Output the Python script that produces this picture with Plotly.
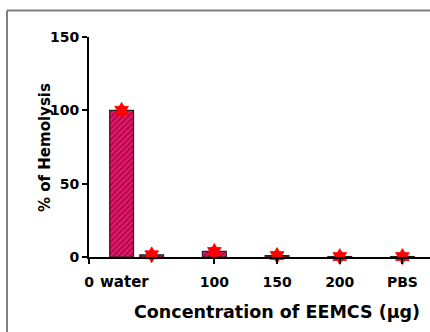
import plotly.graph_objects as go

# data
doses = [26, 50, 100, 150, 200, 250]          # x positions on numeric axis (water, 50..200, PBS)
hemolysis = [100, 1.5, 3.8, 1.0, 0.3, 0.3]    # % hemolysis
tick_vals = [0, 100, 150, 200, 250]
tick_text = ["0", "100", "150", "200", "PBS"]
y_ticks = [0, 50, 100, 150]

W, H = 430, 332
L, R, T, B = 89, 0, 37, 75

font_fam = "DejaVu Sans, Verdana, sans-serif"

fig = go.Figure()
fig.add_trace(go.Bar(
    x=doses, y=hemolysis, width=19,
    marker=dict(color="#e8156a", line=dict(color="#222222", width=1.2),
                pattern=dict(shape="/", fgcolor="#2a0012", size=4, solidity=0.3, fillmode="overlay")),
    showlegend=False, hoverinfo="skip",
))
fig.add_trace(go.Scatter(
    x=doses, y=hemolysis, mode="markers",
    marker=dict(symbol="circle", size=9, color="#ff0000", line=dict(width=0)),
    showlegend=False, cliponaxis=False, hoverinfo="skip",
))
fig.add_trace(go.Scatter(
    x=doses, y=hemolysis, mode="markers",
    marker=dict(symbol="hexagram", size=12, color="#ff0000", line=dict(width=0.8, color="#ff0000")),
    showlegend=False, cliponaxis=False,
))

fig.update_layout(
    width=W, height=H,
    margin=dict(l=L, r=R, t=T, b=B, pad=0),
    paper_bgcolor="white", plot_bgcolor="white",
    font=dict(family=font_fam, color="black"),
    xaxis=dict(range=[0, 272], tickvals=tick_vals, ticktext=tick_text,
               showline=True, linecolor="black", linewidth=2,
               ticks="outside", ticklen=5, tickwidth=2, tickcolor="black",
               ticklabelstandoff=6,
               tickfont=dict(size=14, family=font_fam, color="black", weight="bold"),
               showgrid=False, zeroline=False, fixedrange=True),
    yaxis=dict(range=[0, 150], tickvals=y_ticks,
               showline=True, linecolor="black", linewidth=2,
               ticks="outside", ticklen=5, tickwidth=2, tickcolor="black",
               tickfont=dict(size=14, family=font_fam, color="black", weight="bold"),
               showgrid=False, zeroline=False, fixedrange=True),
    annotations=[
        dict(text="water", x=124, y=282, xref="paper", yref="paper", showarrow=False,
             font=dict(size=15, family=font_fam, color="black", weight="bold"),
             xanchor="center", yanchor="middle"),
        dict(text="% of Hemolysis", x=34, y=148, xref="paper", yref="paper",
             textangle=-90, showarrow=False,
             font=dict(size=15, family=font_fam, color="black", weight="bold")),
        dict(text="Concentration of EEMCS (µg)", x=277, y=312,
             xref="paper", yref="paper", showarrow=False, yanchor="middle",
             font=dict(size=17.5, family=font_fam, color="black", weight="bold")),
    ],
    shapes=[
        dict(type="line", xref="paper", yref="paper",
             x0=7, x1=7, y0=10.5, y1=340,
             line=dict(color="#808080", width=2)),
        dict(type="line", xref="paper", yref="paper",
             x0=7, x1=440, y0=10.5, y1=10.5,
             line=dict(color="#808080", width=2)),
    ],
)

# convert pixel coordinates (from top-left of the page) to paper coordinates
pw, ph = W - L - R, H - T - B
def px2paper_x(px):
    return (px - L) / pw
def px2paper_y(py):
    return ((H - B) - py) / ph

for a in fig.layout.annotations:
    a.x = px2paper_x(a.x)
    a.y = px2paper_y(a.y)
for s in fig.layout.shapes:
    s.x0, s.x1 = px2paper_x(s.x0), px2paper_x(s.x1)
    s.y0, s.y1 = px2paper_y(s.y0), px2paper_y(s.y1)

fig.write_html("out.html")
